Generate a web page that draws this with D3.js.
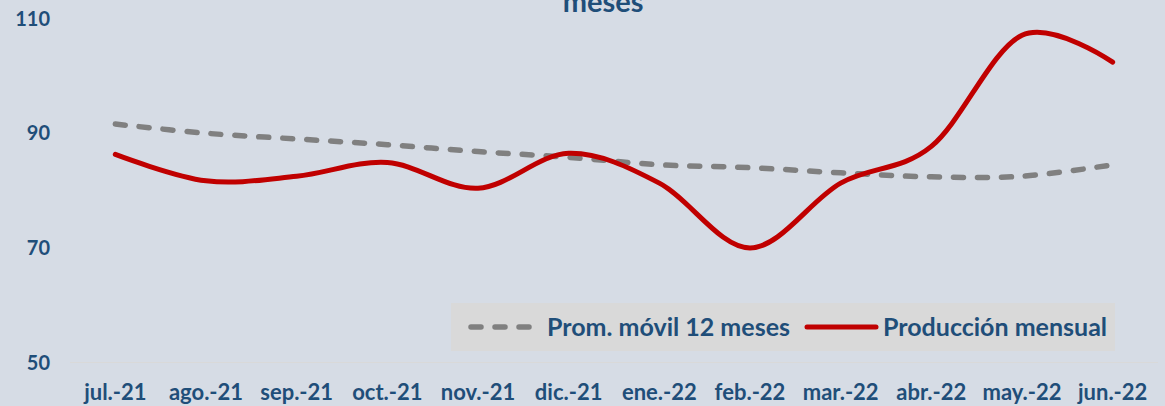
<!DOCTYPE html>
<html><head><meta charset="utf-8">
<script src="https://cdn.jsdelivr.net/npm/d3@7"></script>
<style>
html,body{margin:0;padding:0;background:#D6DCE5;}
svg{display:block;}
text{font-family:Lato,"Open Sans",sans-serif;font-weight:bold;fill:#1F4E79;}
</style></head>
<body>
<svg id="chart" width="1165" height="406"></svg>
<script>
const categories = ["jul.-21","ago.-21","sep.-21","oct.-21","nov.-21","dic.-21","ene.-22","feb.-22","mar.-22","abr.-22","may.-22","jun.-22"];
const promMovil = [91.5,89.9,88.9,87.9,86.7,85.7,84.4,83.9,83.0,82.3,82.4,84.4];
const produccion = [86.2,81.6,82.4,84.8,80.3,86.4,81.2,69.9,81.2,87.6,107.0,102.3];
const yTicks = [50,70,90,110];
const seriesNames = ["Prom. móvil 12 meses","Producción mensual"];
const titleText = "meses";

const svg = d3.select("#chart");
svg.append("rect").attr("width",1165).attr("height",406).attr("fill","#D6DCE5");

const x = d3.scaleBand().domain(categories).range([70,1158]);
const y = d3.scaleLinear().domain([50,110]).range([362,18]);

// title (partially cut at the top, as in the reference)
svg.append("text").attr("x",603).attr("y",12).attr("text-anchor","middle")
  .style("font-size","29px").text(titleText);

// x axis baseline
svg.append("line").attr("x1",70).attr("x2",1158).attr("y1",y(50)+0.5).attr("y2",y(50)+0.5)
  .attr("stroke","#D9D9D9").attr("stroke-width",1);

// y axis labels
const yAxis = d3.axisLeft(y).tickValues(yTicks).tickSize(0).tickPadding(0);
const yg = svg.append("g").attr("transform","translate(50,0)").call(yAxis);
yg.select(".domain").remove();
yg.selectAll("text").style("font-size","20px").style("font-family","Lato").attr("fill","#1F4E79").attr("dy","0.35em");

// x axis labels
const xAxis = d3.axisBottom(x).tickSize(0).tickPadding(0);
const xg = svg.append("g").attr("transform","translate(0,400)").call(xAxis);
xg.select(".domain").remove();
xg.selectAll("text").style("font-size","22px").style("font-family","Lato").attr("fill","#1F4E79").attr("dy","0").attr("y",0);

const cx = d => x(d) + x.bandwidth()/2;
const line = d3.line().x((d,i)=>cx(categories[i])).y(d=>y(d)).curve(d3.curveCatmullRom.alpha(0));

svg.append("path").datum(promMovil).attr("d",line).attr("fill","none")
  .attr("stroke","#808080").attr("stroke-width",5.5).attr("stroke-linecap","round")
  .attr("stroke-dasharray","10,14");
svg.append("path").datum(produccion).attr("d",line).attr("fill","none")
  .attr("stroke","#C00000").attr("stroke-width",5).attr("stroke-linecap","round");

// legend
const lg = svg.append("g");
lg.append("rect").attr("x",451).attr("y",303).attr("width",664).attr("height",48).attr("fill","#D9D9D9");
lg.append("line").attr("x1",471).attr("x2",531).attr("y1",327).attr("y2",327)
  .attr("stroke","#808080").attr("stroke-width",5.5).attr("stroke-linecap","round").attr("stroke-dasharray","10,14");
lg.append("text").attr("x",547).attr("y",327).attr("dy","0.35em").style("font-size","25px").text(seriesNames[0]);
lg.append("line").attr("x1",807).attr("x2",876).attr("y1",327).attr("y2",327)
  .attr("stroke","#C00000").attr("stroke-width",5).attr("stroke-linecap","round");
lg.append("text").attr("x",883).attr("y",327).attr("dy","0.35em").style("font-size","25px").text(seriesNames[1]);
</script>
</body></html>
